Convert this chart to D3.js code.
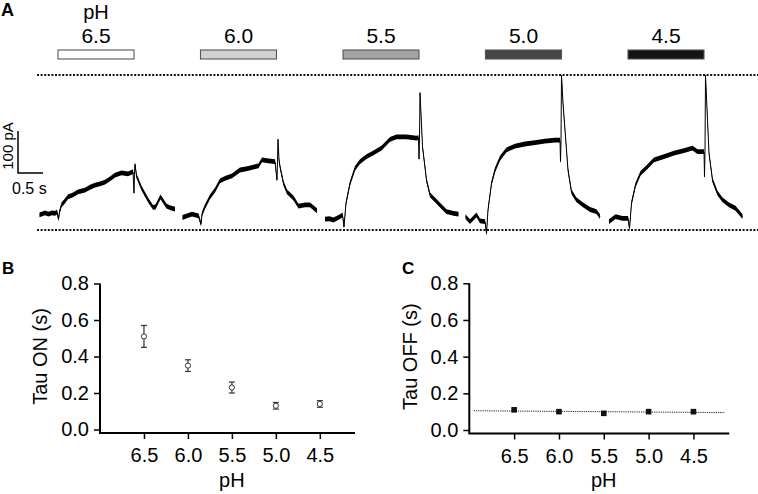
<!DOCTYPE html>
<html><head><meta charset="utf-8">
<script src="https://cdn.jsdelivr.net/npm/d3@7"></script>
<style>
html,body{margin:0;padding:0;background:#fff;}
svg{display:block;font-family:"Liberation Sans",Arial,Helvetica,sans-serif;}
</style></head>
<body>
<svg id="chart" width="758" height="494"></svg>
<script>
// ---------------- DATA ----------------
const phLevels = ["6.5", "6.0", "5.5", "5.0", "4.5"];
const phValues = [6.5, 6.0, 5.5, 5.0, 4.5];
const barColors = ["#ffffff", "#d2d2d2", "#a3a3a3", "#454545", "#131313"];
const sweepInterval = 2.85;   // s between sweep onsets
const pulseDuration = 1.52;   // s of acid application

// current traces: [time from onset (s), current (pA)]
const trace65 = [[-0.37,12],[-0.3,15],[-0.26,17],[-0.19,14],[-0.12,17],[-0.06,16],[-0.02,19],[0.01,2],[0.03,19],[0.07,36],[0.13,44],[0.2,55],[0.3,60],[0.4,67],[0.54,71],[0.64,78],[0.74,83],[0.84,86],[0.94,90],[1.04,98],[1.14,107],[1.27,112],[1.4,110],[1.5,115],[1.52,64],[1.53,116],[1.54,133],[1.57,105],[1.67,76],[1.8,48],[1.9,30],[1.95,31],[2.05,55],[2.17,33],[2.25,29],[2.34,26]];
const trace60 = [[-0.36,6],[-0.27,10],[-0.17,14],[-0.04,10],[0.01,-10],[0.03,14],[0.09,32],[0.19,55],[0.29,71],[0.39,93],[0.49,99],[0.63,105],[0.79,119],[0.96,123],[1.16,129],[1.23,143],[1.36,141],[1.49,139],[1.53,95],[1.54,140],[1.55,192],[1.57,143],[1.59,127],[1.66,87],[1.73,67],[1.86,52],[1.96,33],[2.09,36],[2.19,36],[2.33,22]];
const trace55 = [[-0.36,2],[-0.27,3],[-0.19,0],[-0.06,8],[-0.01,12],[0.02,-16],[0.06,40],[0.14,87],[0.24,123],[0.34,139],[0.47,151],[0.61,160],[0.77,171],[0.94,192],[1.07,198],[1.27,198],[1.47,195],[1.51,196],[1.52,145],[1.53,195],[1.54,303],[1.59,175],[1.67,95],[1.74,60],[1.84,48],[1.97,32],[2.07,20],[2.21,16],[2.31,14]];
const trace50 = [[-0.4,8],[-0.31,-4],[-0.18,12],[-0.11,-2],[-0.01,-4],[0.02,-32],[0.05,24],[0.12,87],[0.19,119],[0.29,147],[0.42,167],[0.59,176],[0.79,181],[0.99,184],[1.19,188],[1.39,190],[1.49,190],[1.5,139],[1.51,190],[1.52,345],[1.55,278],[1.6,198],[1.65,119],[1.72,67],[1.82,48],[1.95,36],[2.09,25],[2.22,20],[2.29,8]];
const trace45 = [[-0.38,-4],[-0.25,8],[-0.11,4],[0.0,4],[0.03,-20],[0.07,40],[0.15,83],[0.25,111],[0.39,127],[0.52,143],[0.72,151],[0.92,159],[1.12,165],[1.29,171],[1.39,163],[1.52,163],[1.53,103],[1.54,163],[1.55,345],[1.59,238],[1.62,159],[1.69,95],[1.79,64],[1.89,48],[2.02,36],[2.15,28],[2.29,8]];
const traces = [trace65, trace60, trace55, trace50, trace45];
const refLevels = [-24, 345];           // dotted reference lines (pA)
const scaleBarCurrent = 100;            // pA
const scaleBarTime = 0.5;               // s

// Panel B: Tau ON (s)
const tauOnMean = [0.51, 0.35, 0.23, 0.13, 0.14];
const tauOnSem  = [0.06, 0.032, 0.03, 0.018, 0.018];
// Panel C: Tau OFF (s)
const tauOffMean = [0.11, 0.10, 0.091, 0.10, 0.10];
const tauOffSem  = [0.006, 0.005, 0.004, 0.005, 0.005];
const tauOffFit = [[6.95, 0.105], [4.15, 0.095]];
const yTicks = [0, 0.2, 0.4, 0.6, 0.8];

// ---------------- DRAW ----------------
const svg = d3.select("#chart");
const FONT = "Liberation Sans, Arial, sans-serif";

// ----- Panel A -----
const xA = d3.scaleLinear().domain([-0.42, 14.0]).range([37, 758]);
const yA = d3.scaleLinear().domain([0, 100]).range([220, 178]);
const gA = svg.append("g");

gA.append("text").attr("x", 1).attr("y", 16).attr("font-weight", "bold")
  .attr("font-size", 18).text("A");

// solution bars
const barY = 50, barH = 9;
phLevels.forEach((p, i) => {
  const t0 = i * sweepInterval;
  gA.append("rect").attr("x", xA(t0)).attr("y", barY)
    .attr("width", xA(t0 + pulseDuration) - xA(t0)).attr("height", barH)
    .attr("fill", barColors[i]).attr("stroke", "#555").attr("stroke-width", 1.1);
  gA.append("text").attr("x", xA(t0 + pulseDuration / 2)).attr("y", 43)
    .attr("text-anchor", "middle").attr("font-size", 21).text(p);
});
gA.append("text").attr("x", xA(pulseDuration / 2)).attr("y", 19)
  .attr("text-anchor", "middle").attr("font-size", 20).text("pH");

// dotted reference lines
refLevels.forEach(v => {
  gA.append("line").attr("x1", 37).attr("x2", 758)
    .attr("y1", yA(v)).attr("y2", yA(v))
    .attr("stroke", "#111").attr("stroke-width", 2).attr("stroke-dasharray", "2,1.6");
});

// traces
traces.forEach((tr, i) => {
  const off = i * sweepInterval;
  const area = d3.area()
    .x(d => xA(d[0] + off))
    .y0(d => yA(d[1]) - 2.4)
    .y1(d => yA(d[1]) + 2.4);
  const line = d3.line().x(d => xA(d[0] + off)).y(d => yA(d[1]));
  gA.append("path").attr("d", area(tr)).attr("fill", "#000");
  gA.append("path").attr("d", line(tr)).attr("fill", "none")
    .attr("stroke", "#000").attr("stroke-width", 1);
});

// scale bar
const sbX = 18, sbY = 173;
const sbH = yA(0) - yA(scaleBarCurrent);
const sbW = xA(scaleBarTime) - xA(0);
gA.append("path")
  .attr("d", `M${sbX},${sbY - sbH}V${sbY}H${sbX + sbW}`)
  .attr("fill", "none").attr("stroke", "#000").attr("stroke-width", 1.5);
gA.append("text").attr("transform", `translate(13,${sbY - sbH / 2 - 6}) rotate(-90)`)
  .attr("text-anchor", "middle").attr("font-size", 15).text(scaleBarCurrent + " pA");
gA.append("text").attr("x", 12).attr("y", 194).attr("font-size", 16)
  .text(scaleBarTime + " s");

// ----- Panels B and C -----
function panel(opts) {
  const g = svg.append("g");
  const x = d3.scaleLinear().domain([7.0, 4.1]).range([opts.x0, opts.x1]);
  const y = d3.scaleLinear().domain([0, 0.8]).range([opts.yZero, opts.yTop]);
  const axisY = opts.yZero + 3.5;

  g.append("text").attr("x", opts.labelX).attr("y", 274)
    .attr("font-weight", "bold").attr("font-size", 17).text(opts.label);

  const ya = g.append("g").attr("transform", `translate(${opts.x0},0)`)
    .call(d3.axisLeft(y).tickValues(yTicks).tickFormat(d3.format(".1f"))
      .tickSize(6).tickPadding(5).tickSizeOuter(0));
  ya.select(".domain").remove();
  ya.selectAll("text").attr("font-size", 20).attr("font-family", FONT).attr("fill", "#000");
  ya.selectAll("line").attr("stroke-width", 1.5);

  const xa = g.append("g").attr("transform", `translate(0,${axisY})`)
    .call(d3.axisBottom(x).tickValues(phValues).tickFormat(d3.format(".1f"))
      .tickSize(6).tickPadding(9).tickSizeOuter(0));
  xa.select(".domain").remove();
  xa.selectAll("text").attr("font-size", 20).attr("font-family", FONT).attr("fill", "#000");
  xa.selectAll("line").attr("stroke-width", 1.5);

  g.append("path")
    .attr("d", `M${opts.x0},${opts.yTop}V${axisY}H${opts.x1}`)
    .attr("fill", "none").attr("stroke", "#000").attr("stroke-width", 2);

  g.append("text").attr("x", (x(6.5) + x(4.5)) / 2).attr("y", 487)
    .attr("text-anchor", "middle").attr("font-size", 20).text("pH");
  g.append("text")
    .attr("transform", `translate(${opts.titleX},${(y(0) + y(0.8)) / 2}) rotate(-90)`)
    .attr("text-anchor", "middle").attr("font-size", 20).text(opts.title);
  return {g, x, y};
}

// Panel B
const B = panel({x0: 100, x1: 355, yZero: 429.5, yTop: 283.5, label: "B", labelX: 2,
  title: "Tau ON (s)", titleX: 47});
phValues.forEach((p, i) => {
  const cx = B.x(p), m = tauOnMean[i], s = tauOnSem[i];
  B.g.append("line").attr("x1", cx).attr("x2", cx)
    .attr("y1", B.y(m + s)).attr("y2", B.y(m - s))
    .attr("stroke", "#333").attr("stroke-width", 1.2);
  [m + s, m - s].forEach(v => B.g.append("line")
    .attr("x1", cx - 3).attr("x2", cx + 3).attr("y1", B.y(v)).attr("y2", B.y(v))
    .attr("stroke", "#333").attr("stroke-width", 1.2));
  B.g.append("circle").attr("cx", cx).attr("cy", B.y(m)).attr("r", 2.6)
    .attr("fill", "#fff").attr("stroke", "#333").attr("stroke-width", 1);
});

// Panel C
const C = panel({x0: 469.3, x1: 729.3, yZero: 430, yTop: 283.3, label: "C", labelX: 402,
  title: "Tau OFF (s)", titleX: 417});
C.g.append("line")
  .attr("x1", C.x(tauOffFit[0][0])).attr("y1", C.y(tauOffFit[0][1]))
  .attr("x2", C.x(tauOffFit[1][0])).attr("y2", C.y(tauOffFit[1][1]))
  .attr("stroke", "#222").attr("stroke-width", 1).attr("stroke-dasharray", "1.2,1");
phValues.forEach((p, i) => {
  const cx = C.x(p), m = tauOffMean[i], s = tauOffSem[i];
  C.g.append("line").attr("x1", cx).attr("x2", cx)
    .attr("y1", C.y(m + s)).attr("y2", C.y(m - s))
    .attr("stroke", "#111").attr("stroke-width", 1);
  C.g.append("rect").attr("x", cx - 2.8).attr("y", C.y(m) - 2.8)
    .attr("width", 5.6).attr("height", 5.6).attr("fill", "#111");
});
</script>
</body></html>
